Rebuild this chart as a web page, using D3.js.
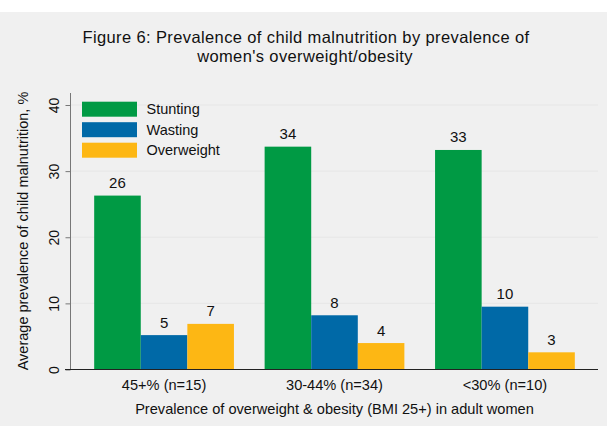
<!DOCTYPE html>
<html>
<head>
  <meta charset="UTF-8">
  <style>
    body { margin: 0; background: #fff; font-family: Arial, "Liberation Sans", sans-serif; }
    svg text { fill: #111; }
  </style>
</head>
<body>
<svg id="chart" width="607" height="426"></svg>
<script src="https://d3js.org/d3.v7.min.js"></script>
<script>
// data
const groups = ["45+% (n=15)", "30-44% (n=34)", "<30% (n=10)"];
const seriesNames = ["Stunting", "Wasting", "Overweight"];
const stunting = [26.3, 33.7, 33.2];
const wasting = [5.2, 8.2, 9.5];
const overweight = [6.9, 4.0, 2.6];
const yTicks = [0, 10, 20, 30, 40];
const titleLines = ["Figure 6: Prevalence of child malnutrition by prevalence of", "women's overweight/obesity"];
const colors = ["#009a44", "#0069a7", "#fdb714"];

const values = [stunting, wasting, overweight];

const svg = d3.select("#chart");
// white strip on top, grey panel below
svg.append("rect").attr("x", 0).attr("y", 12).attr("width", 607).attr("height", 414).attr("fill", "#f0f0f0");

const x0 = d3.scaleBand().domain(groups).range([71, 598]).paddingInner(0.18).paddingOuter(0.136);
const x1 = d3.scaleBand().domain(seriesNames).range([0, x0.bandwidth()]);
const y = d3.scaleLinear().domain([0, 40]).range([369.5, 105]);

// gridlines
svg.append("g").selectAll("line")
  .data(yTicks.filter(d => d > 0))
  .join("line")
  .attr("x1", 71).attr("x2", 598)
  .attr("y1", d => y(d)).attr("y2", d => y(d))
  .attr("stroke", "#e6e6e6").attr("stroke-width", 1);

// y axis
const yAxis = svg.append("g").attr("transform", "translate(70.5,0)")
  .call(d3.axisLeft(y).tickValues(yTicks).tickSize(5));
yAxis.select(".domain").attr("stroke", "#777").attr("d", "M0," + y(0) + "V" + 93);
yAxis.selectAll(".tick line").attr("stroke", "#777");
yAxis.selectAll(".tick text")
  .attr("font-size", 14).attr("font-family", "Arial, 'Liberation Sans', sans-serif")
  .attr("fill", "#111")
  .attr("transform", "rotate(-90)")
  .attr("x", 0).attr("y", -12)
  .attr("dy", 0)
  .attr("text-anchor", "middle");

// bars
const gGroups = svg.append("g").selectAll("g")
  .data(groups)
  .join("g")
  .attr("transform", d => "translate(" + x0(d) + ",0)");

gGroups.selectAll("rect")
  .data((g, gi) => seriesNames.map((s, si) => ({s, si, v: values[si][gi]})))
  .join("rect")
  .attr("x", d => x1(d.s))
  .attr("y", d => y(d.v))
  .attr("width", x1.bandwidth())
  .attr("height", d => y(0) - y(d.v))
  .attr("fill", d => colors[d.si]);

gGroups.selectAll("text")
  .data((g, gi) => seriesNames.map((s, si) => ({s, si, v: values[si][gi]})))
  .join("text")
  .attr("x", d => x1(d.s) + x1.bandwidth() / 2)
  .attr("y", d => y(d.v) - 7.5)
  .attr("text-anchor", "middle")
  .attr("font-size", 15)
  .text(d => Math.round(d.v));

// x baseline
svg.append("line").attr("x1", 65).attr("x2", 598).attr("y1", y(0)).attr("y2", y(0))
  .attr("stroke", "#222").attr("stroke-width", 1.2);

// x tick labels
svg.append("g").selectAll("text")
  .data(groups)
  .join("text")
  .attr("x", d => x0(d) + x0.bandwidth() / 2)
  .attr("y", 389.5)
  .attr("text-anchor", "middle")
  .attr("font-size", 14.6)
  .text(d => d);

// axis titles
svg.append("text").attr("x", 334.5).attr("y", 413.5).attr("text-anchor", "middle")
  .attr("font-size", 14.6).text("Prevalence of overweight & obesity (BMI 25+) in adult women");
svg.append("text").attr("transform", "translate(28,231) rotate(-90)").attr("text-anchor", "middle")
  .attr("font-size", 14.5).text("Average prevalence of child malnutrition, %");

// title, two lines
svg.append("g").attr("font-size", 16.5).attr("letter-spacing", 0.38)
  .selectAll("text")
  .data(titleLines)
  .join("text")
  .attr("text-anchor", "middle")
  .attr("x", (d, i) => i ? 305 : 306)
  .attr("y", (d, i) => 43.2 + i * 18.6)
  .text(d => d);

// legend
const legend = svg.append("g").selectAll("g")
  .data(seriesNames)
  .join("g")
  .attr("transform", (d, i) => "translate(82," + (101.7 + i * 20.5) + ")");
legend.append("rect").attr("width", 55).attr("height", 15).attr("fill", (d, i) => colors[i]);
legend.append("text").attr("x", 64.5).attr("y", 12.5).attr("font-size", 14.5).text(d => d);
</script>
</body>
</html>
